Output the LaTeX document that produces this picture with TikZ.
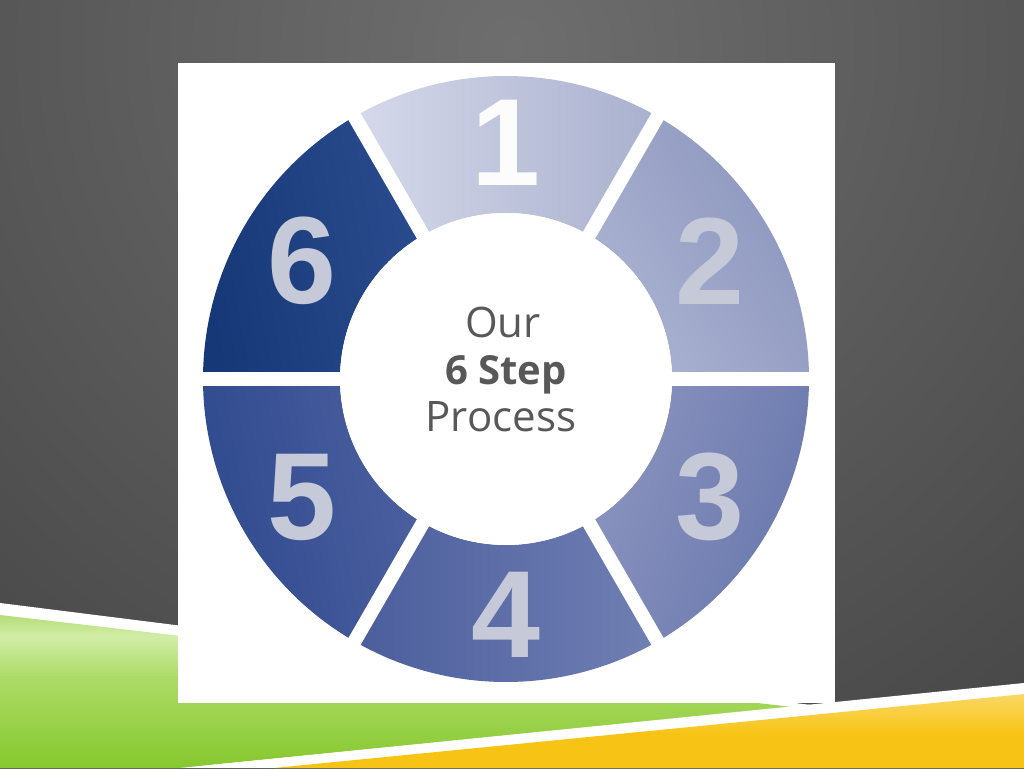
\documentclass[tikz,border=0pt]{standalone}
\usepackage{fontspec}
\setmainfont{Open Sans}
\newfontfamily\digitfont{Liberation Sans}
\usetikzlibrary{calc}
\definecolor{bglight}{HTML}{6E6E6E}
\definecolor{bgdark}{HTML}{333333}
\definecolor{digitgray}{HTML}{C6CAD8}
\definecolor{txtgray}{HTML}{585858}
\definecolor{gtop}{HTML}{B4DD78}
\definecolor{glight}{HTML}{D2EDA6}
\definecolor{gmid}{HTML}{AEDB68}
\definecolor{gbot}{HTML}{86C82E}
\definecolor{ytop}{HTML}{F6C21A}
\definecolor{ylight}{HTML}{FCE08A}
\definecolor{ybot}{HTML}{F7C416}
\pgfdeclareverticalshading{greensh}{100bp}{color(0bp)=(gbot); color(25bp)=(gbot); color(55bp)=(gmid); color(68bp)=(glight); color(75bp)=(gtop); color(100bp)=(gtop)}
\pgfdeclareverticalshading{yellowsh}{100bp}{color(0bp)=(ybot); color(62bp)=(ybot); color(78bp)=(ylight); color(88bp)=(ytop); color(100bp)=(ytop)}
\newcommand\ringseg[4]{%
  \shade[left color=#2, right color=#3, shading angle=#4]
    ($(c)+(#1-30:303)$) arc[start angle=#1-30, end angle=#1+30, radius=303]
    -- ($(c)+(#1+30:166)$) arc[start angle=#1+30, end angle=#1-30, radius=166]
    -- cycle;}
\begin{document}
\begin{tikzpicture}[x=1pt,y=1pt,
  digit/.style={font=\digitfont\bfseries\fontsize{124}{124}\selectfont, text=digitgray, inner sep=0pt},
  centertxt/.style={font=\fontsize{42}{42}\selectfont, text=txtgray, inner sep=0pt, anchor=base},
  gapline/.style={white, line width=14pt}]
\useasboundingbox (0,0) rectangle (1024,768);
% background
\begin{scope}
  \clip (0,0) rectangle (1024,768);
  \fill[bgdark] (0,0) rectangle (1024,768);
  \shade[inner color=bglight, outer color=bgdark] (512,720) circle (1300);
\end{scope}
% bottom swooshes
\fill[white] (0,165) -- (835,60) -- (180,0) -- (0,0) -- cycle;
\shade[shading=greensh] (0,153) -- (792,61) -- (180,0) -- (0,0) -- cycle;
\fill[white] (180,0) -- (1024,85) -- (1024,0) -- cycle;
\begin{scope}
  \clip (274,0) -- (1024,74) -- (1024,0) -- cycle;
  \shade[shading=yellowsh, rotate around={5.63:(274,0)}] (200,-90) rectangle (1100,0);
\end{scope}
% white panel
\fill[white] (178,65) rectangle (835,705);
% ring
\coordinate (c) at (506,389);
\definecolor{s1a}{HTML}{D5D9EA}\definecolor{s1b}{HTML}{A9B0CE}
\definecolor{s2a}{HTML}{ACB4D2}\definecolor{s2b}{HTML}{8B95BD}
\definecolor{s3a}{HTML}{8A94BF}\definecolor{s3b}{HTML}{6977AC}
\definecolor{s4a}{HTML}{4B5D9C}\definecolor{s4b}{HTML}{7080B4}
\definecolor{s5a}{HTML}{2E4A8E}\definecolor{s5b}{HTML}{4D60A0}
\definecolor{s6a}{HTML}{173877}\definecolor{s6b}{HTML}{2A4C8E}
\ringseg{90}{s1a}{s1b}{90}
\ringseg{30}{s2a}{s2b}{120}
\ringseg{-30}{s3a}{s3b}{70}
\ringseg{-90}{s4a}{s4b}{90}
\ringseg{210}{s5a}{s5b}{100}
\ringseg{150}{s6a}{s6b}{100}
\node[circle, fill=white, minimum size=332pt, inner sep=0pt] (hub) at (c) {};
\foreach \a in {0,60,...,300} \draw[gapline] (hub.center) -- ++(\a:320);
% digits
\node[digit, text=white!94!digitgray] (n1) at ($(c)+(90:236)$) {1};
\node[digit] (n2) at ($(c)+(30:236)$) {2};
\node[digit] (n3) at ($(c)+(-30:236)$) {3};
\node[digit] (n4) at ($(c)+(-90:236)$) {4};
\node[digit] (n5) at ($(c)+(210:236)$) {5};
\node[digit] (n6) at ($(c)+(150:236)$) {6};
% centre text
\node[centertxt] (our) at (503,430) {Our};
\node[centertxt, font=\bfseries\fontsize{40}{40}\selectfont] (step) at (506,383) {6 Step};
\node[centertxt] (proc) at (501,336) {Process};
\end{tikzpicture}
\end{document}
